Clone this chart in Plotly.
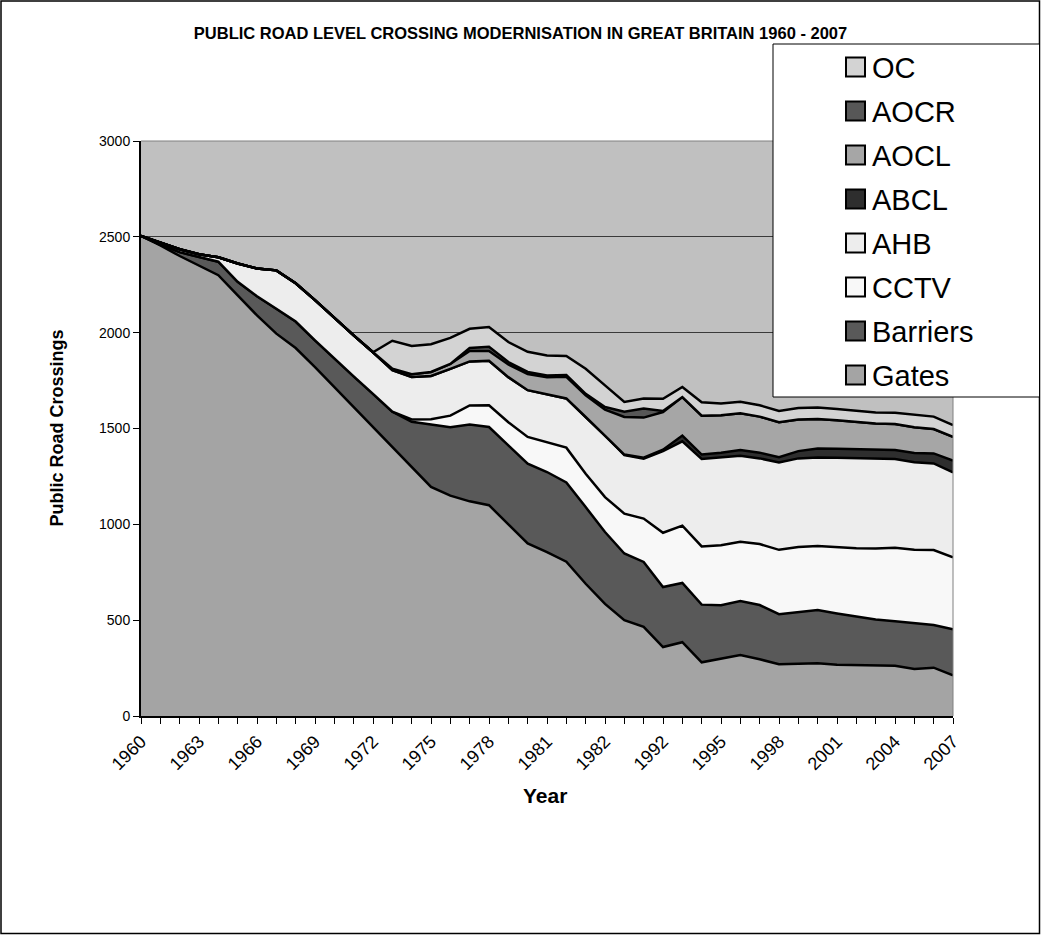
import plotly.graph_objects as go

# ---------------- data ----------------
year_labels = [str(y) for y in range(1960, 1982)] + ["1981/2", "1982/1", "1982", "1986", "1990"] + \
              [str(y) for y in range(1992, 2008)]

gates = [2505, 2455, 2400, 2350, 2300, 2195, 2090, 1995, 1920, 1820, 1715, 1610, 1510, 1405, 1300,
         1195, 1150, 1120, 1100, 1000, 900, 855, 805, 690, 585, 500, 465, 360, 385, 280, 300, 318,
         296, 270, 272, 275, 268, 266, 265, 262, 245, 252, 212]
barriers = [0, 5, 20, 45, 70, 70, 100, 130, 138, 140, 150, 162, 171, 183, 235, 327, 356, 401, 408,
            412, 417, 418, 414, 400, 375, 348, 339, 313, 309, 301, 278, 282, 283, 261, 270, 278,
            267, 252, 238, 233, 240, 223, 240]
cctv = [0] * 14 + [12, 26, 61, 99, 113, 121, 139, 156, 181, 174, 182, 208, 226, 283, 299, 304, 313,
                   309, 318, 336, 340, 334, 347, 357, 371, 383, 383, 391, 376]
ahb = [0, 9, 15, 14, 23, 96, 145, 200, 200, 210, 212, 214, 217, 217, 222, 226, 244, 230, 232, 235,
       244, 249, 257, 296, 322, 305, 313, 426, 440, 456, 457, 449, 447, 456, 462, 462, 465, 469,
       467, 463, 456, 452, 443]
abcl = [0] * 25 + [3, 5, 7, 30, 23, 25, 30, 30, 27, 38, 47, 47, 47, 49, 47, 48, 52, 61]
aocl = [0] * 13 + [7, 14, 21, 26, 54, 52, 66, 84, 90, 113, 113, 134, 196, 209, 197, 201, 203, 196,
                   191, 188, 183, 165, 153, 149, 144, 136, 135, 134, 127, 125]
aocr = [0] * 17 + [16, 21, 13, 11, 9, 9, 8, 14, 27, 47, 5] + [0] * 15
oc = [0] * 13 + [146, 148, 145, 136, 100, 104, 104, 105, 104, 99, 131, 113, 52, 52, 64, 53, 70, 61,
                 61, 59, 59, 60, 60, 59, 58, 57, 59, 66, 65, 61]

series_names = ["Gates", "Barriers", "CCTV", "AHB", "ABCL", "AOCL", "AOCR", "OC"]
series_values = [gates, barriers, cctv, ahb, abcl, aocl, aocr, oc]
series_colors = ["#A4A4A4", "#595959", "#F8F8F8", "#EDEDED", "#2E2E2E", "#A6A6A6", "#575757", "#D3D3D3"]

FONT = "Liberation Sans, Arial, sans-serif"
W, H = 1041, 935
L, R, T, B = 141, 953, 141, 716   # plot area in pixels


def px(x):
    return (x - L) / (R - L)


def py(y):
    return (B - y) / (B - T)


x_idx = list(range(len(year_labels)))

fig = go.Figure()
for name, vals, col in zip(series_names, series_values, series_colors):
    fig.add_trace(go.Scatter(
        x=x_idx, y=vals, name=name, mode="lines", stackgroup="one",
        line=dict(color="black", width=2.5), fillcolor=col, showlegend=False,
        customdata=year_labels, hovertemplate="%{customdata}: %{y}<extra>" + name + "</extra>"))

shapes = []
# plot-area border (top / right) in grey
shapes.append(dict(type="line", xref="paper", yref="paper", x0=0, x1=1, y0=1, y1=1,
                   line=dict(color="#808080", width=1)))
shapes.append(dict(type="line", xref="paper", yref="paper", x0=1, x1=1, y0=0, y1=1,
                   line=dict(color="#808080", width=1)))
# outer chart border
shapes.append(dict(type="rect", xref="paper", yref="paper",
                   x0=px(1), x1=px(1039.5), y0=py(933.5), y1=py(1),
                   line=dict(color="black", width=1.5), fillcolor="rgba(0,0,0,0)"))
# legend box
shapes.append(dict(type="rect", xref="paper", yref="paper",
                   x0=px(773), x1=px(1039.5), y0=py(397), y1=py(44),
                   line=dict(color="black", width=1), fillcolor="white"))

annotations = []
legend_order = list(reversed(range(len(series_names))))
for k, si in enumerate(legend_order):
    cy = 67 + 44 * k
    shapes.append(dict(type="rect", xref="paper", yref="paper",
                       x0=px(846), x1=px(865), y0=py(cy + 9.5), y1=py(cy - 9.5),
                       line=dict(color="black", width=2), fillcolor=series_colors[si]))
    annotations.append(dict(xref="paper", yref="paper", x=px(870), y=py(cy + 1),
                            xanchor="left", yanchor="middle", showarrow=False,
                            text=series_names[si], font=dict(family=FONT, size=29, color="black")))

# axis titles
annotations.append(dict(xref="paper", yref="paper", x=px(56), y=0.5, textangle=-90,
                        xanchor="center", yanchor="middle", showarrow=False,
                        text="<b>Public Road Crossings</b>",
                        font=dict(family=FONT, size=18, color="black")))
annotations.append(dict(xref="paper", yref="paper", x=px(545), y=py(795),
                        xanchor="center", yanchor="middle", showarrow=False,
                        text="<b>Year</b>", font=dict(family=FONT, size=21, color="black")))

fig.update_layout(
    width=W, height=H, autosize=False,
    margin=dict(l=L, r=W - R, t=T, b=H - B, pad=0),
    paper_bgcolor="white", plot_bgcolor="#C0C0C0",
    title=dict(text="<b>PUBLIC ROAD LEVEL CROSSING MODERNISATION IN GREAT BRITAIN 1960 - 2007</b>",
               x=0.5, xanchor="center", y=1 - 33 / H, yanchor="middle",
               font=dict(family=FONT, size=16.5, color="black")),
    showlegend=False,
    shapes=shapes, annotations=annotations,
    font=dict(family=FONT, color="black"),
)

fig.update_xaxes(
    range=[0, len(year_labels) - 1], showgrid=False, zeroline=False,
    tickmode="array", tickvals=x_idx,
    ticktext=[lab if i % 3 == 0 else "" for i, lab in enumerate(year_labels)],
    tickangle=-45, tickfont=dict(family=FONT, size=18, color="black"),
    ticks="outside", ticklen=6, tickcolor="black", tickwidth=1,
    showline=True, linecolor="black", linewidth=2,
)
fig.update_yaxes(
    range=[0, 3000], dtick=500, showgrid=True, gridcolor="#3A3A3A", gridwidth=1,
    zeroline=False, tickfont=dict(family=FONT, size=14, color="black"),
    ticks="outside", ticklen=6, tickcolor="black", tickwidth=1,
    showline=True, linecolor="black", linewidth=2,
)

fig.write_html("out.html", config={"displayModeBar": False},
               post_script="document.body.style.margin='0px';")
